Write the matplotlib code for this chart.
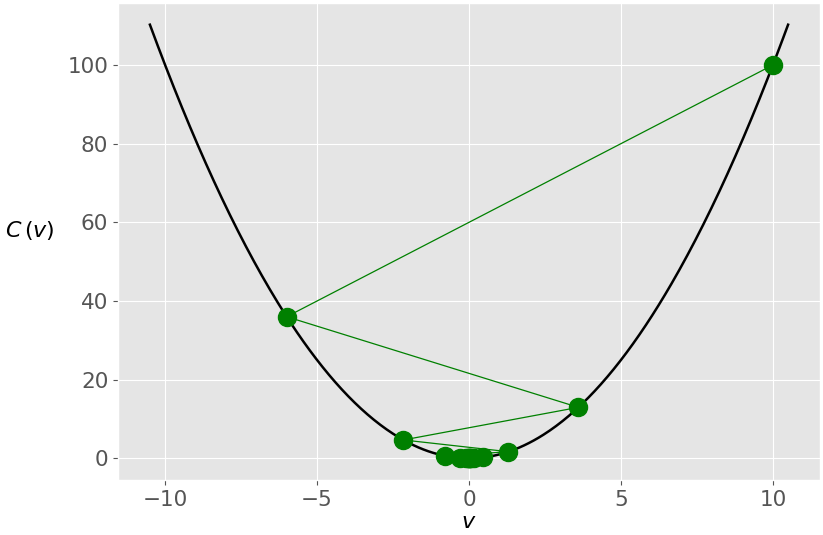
import numpy as np
import matplotlib
matplotlib.use("Agg")
import matplotlib.pyplot as plt

plt.style.use("ggplot")

# Cost curve C(v) = v^2 sampled range
curve_range = [-10.5, 10.5]
# Gradient-descent iterates
steps_v = [10.0, -6.0, 3.6, -2.16, 1.296, -0.778, 0.467, -0.28, 0.168, -0.101, 0.06, -0.036, 0.022, -0.013, 0.008]
steps_c = [v ** 2 for v in steps_v]

fig = plt.figure(figsize=(8.23, 5.35), dpi=100)
ax = fig.add_axes([118 / 823, 55 / 535, 702 / 823, 477 / 535])

v = np.linspace(curve_range[0], curve_range[1], 400)
ax.plot(v, v ** 2, color="black", lw=1.8)
ax.plot(steps_v, steps_c, color="green", lw=0.9, marker="o", markersize=13,
        markerfacecolor="green", markeredgecolor="green")

ax.tick_params(labelsize=15.5, colors="#555555")
ax.set_xlabel(r"$v$", fontsize=16, color="black", labelpad=2)
ax.set_ylabel(r"$C\,(v)$", fontsize=16, color="black", rotation=0, labelpad=27)
ax.set_xticks([-10, -5, 0, 5, 10])
ax.set_yticks([0, 20, 40, 60, 80, 100])

fig.savefig("out.png", dpi=100)
